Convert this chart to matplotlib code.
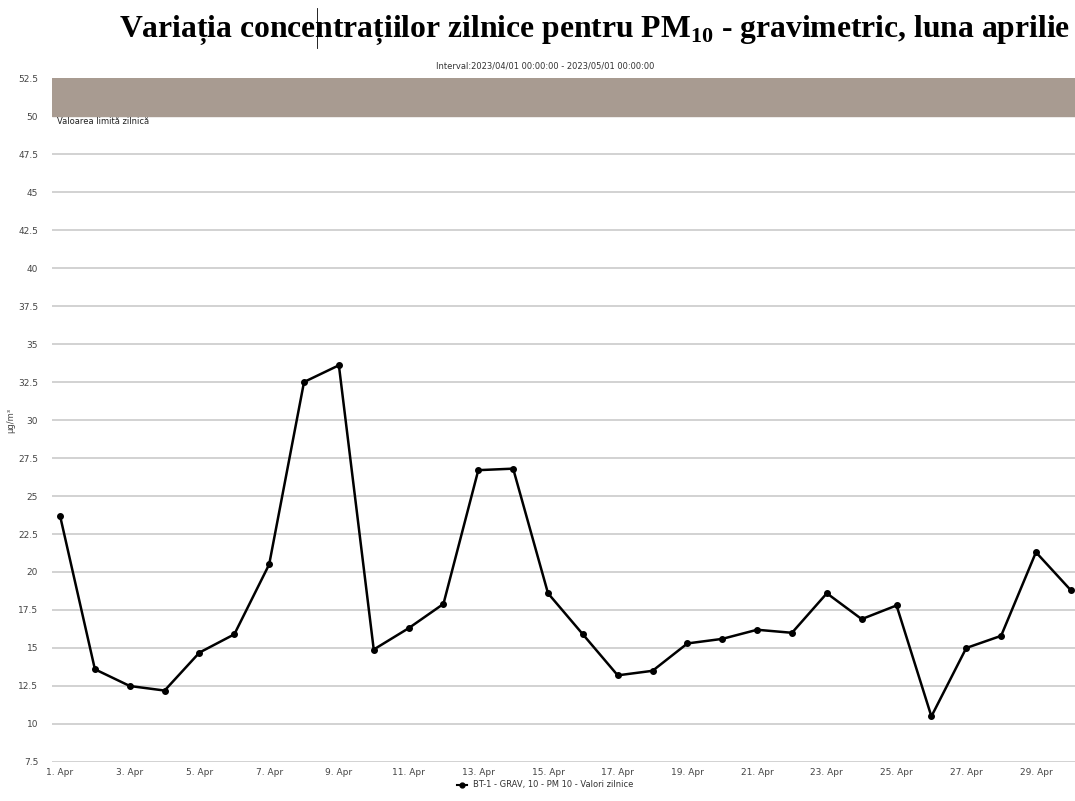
import matplotlib.pyplot as plt
from matplotlib.lines import Line2D

days = list(range(1, 31))
pm10 = [23.7, 13.6, 12.5, 12.2, 14.7, 15.9, 20.5, 32.5, 33.6, 14.9,
        16.3, 17.9, 26.7, 26.8, 18.6, 15.9, 13.2, 13.5, 15.3, 15.6,
        16.2, 16.0, 18.6, 16.9, 17.8, 10.5, 15.0, 15.8, 21.3, 18.8]
tick_days = list(range(1, 31, 2))
tick_labels = [f"{d}. Apr" for d in tick_days]
y_ticks = [7.5 + 2.5 * i for i in range(19)]
limit_low, limit_high = 50, 52.5

fig = plt.figure(figsize=(10.75, 8.01), dpi=100)
ax = fig.add_axes([0.0484, 0.0487, 0.9516, 0.8539])

ax.axhspan(limit_low, limit_high, color="#a89b91", zorder=1)
for v in y_ticks:
    ax.axhline(v, color="#d2d2d2", lw=1.4, zorder=0)

ax.plot(days, pm10, color="black", lw=1.8, marker="o", ms=4, zorder=3)

ax.set_xlim(0.77, 30.12)
ax.set_ylim(7.5, 52.5)
ax.set_yticks(y_ticks)
ax.set_yticklabels([f"{v:g}" for v in y_ticks])
ax.set_xticks(tick_days)
ax.set_xticklabels(tick_labels)
ax.tick_params(axis="both", length=0, labelsize=6.5, labelcolor="#444444")
ax.tick_params(axis="y", pad=10)
ax.tick_params(axis="x", pad=4)
for s in ax.spines.values():
    s.set_visible(False)

ax.text(0.91, 49.65, "Valoarea limită zilnică", fontsize=6, color="#222222",
        va="center", ha="left", zorder=4)
ax.set_ylabel("µg/m³", fontsize=6, color="#444444", labelpad=2)

fig.text(0.507, 0.918, "Interval:2023/04/01 00:00:00 - 2023/05/01 00:00:00",
         fontsize=6, color="#333333", ha="center", va="center")
fig.text(0.553, 0.962,
         "Variația concentrațiilor zilnice pentru PM$_{\\mathregular{10}}$ - gravimetric, luna aprilie",
         fontsize=22.8, fontweight="bold", family="Liberation Serif",
         ha="center", va="center")
fig.add_artist(Line2D([0.295, 0.295], [0.94, 0.99], color="black", lw=0.6))

handle = Line2D([], [], color="black", lw=1.5, marker="o", ms=3.5)
fig.legend([handle], ["BT-1 - GRAV, 10 - PM 10 - Valori zilnice"],
           loc="center", bbox_to_anchor=(0.507, 0.02), frameon=False,
           fontsize=6, labelcolor="#333333", handlelength=1.2)

fig.savefig("out.png", dpi=100)
